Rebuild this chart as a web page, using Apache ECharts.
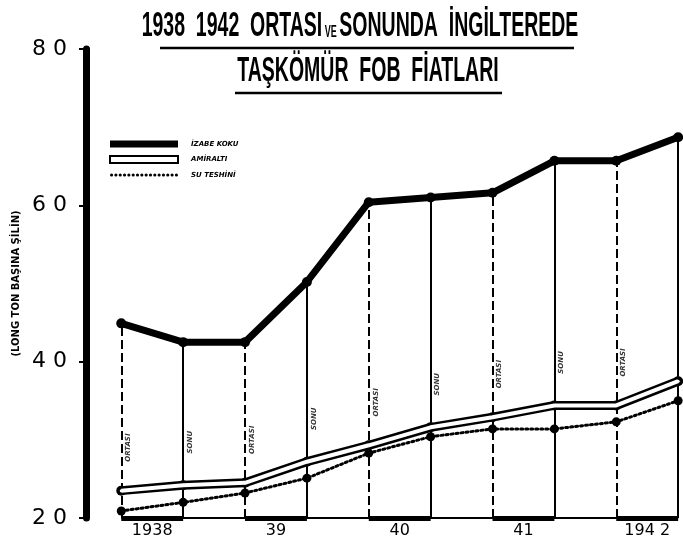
<!DOCTYPE html>
<html>
<head>
<meta charset="utf-8">
<script src="https://cdn.jsdelivr.net/npm/echarts@6/dist/echarts.min.js"></script>
<style>
  html, body { margin: 0; padding: 0; background: #fff; }
  #chart { width: 683px; height: 549px; }
</style>
</head>
<body>
<div id="chart"></div>
<script>
// her yilin ortasi ve sonu (x ekseninde sira no)
const periods = ['1938 ortası', '1938 sonu', '1939 ortası', '1939 sonu', '1940 ortası',
                 '1940 sonu', '1941 ortası', '1941 sonu', '1942 ortası', '1942 sonu'];
// son cizginin yaninda etiket yok
const periodTags = ['ORTASI', 'SONU', 'ORTASI', 'SONU', 'ORTASI', 'SONU', 'ORTASI', 'SONU', 'ORTASI', ''];
const yearLabels = ['1938', '39', '40', '41', '194 2'];

// long ton basina silin
const izabeKoku = [44.9, 42.5, 42.5, 50.2, 60.4, 61.0, 61.6, 65.7, 65.7, 68.7];
const amiralti  = [23.5, 24.2, 24.5, 27.2, 29.3, 31.6, 32.9, 34.4, 34.4, 37.5];
const suTeshini = [20.9, 22.0, 23.2, 25.1, 28.3, 30.4, 31.4, 31.4, 32.3, 35.0];

const yMin = 20, yMax = 80, yStep = 20;

const pts = arr => arr.map((v, i) => [i, v]);

// legend icon: noktali cizgi
let dots = '';
for (let x = 1.6; x < 68; x += 4.4) {
  dots += 'M' + (x - 1.6) + ',2a1.6,1.6 0 1,0 3.2,0a1.6,1.6 0 1,0 -3.2,0';
}

// dikey cizgiler (ortasi kesikli, sonu duz) ve alt cizgi
const frameLines = periods.map((p, i) => [
  { coord: [i, yMin], lineStyle: { type: i % 2 === 0 ? [9, 4] : 'solid', width: 2 } },
  { coord: [i, izabeKoku[i]] }
]);
frameLines.push([{ coord: [0, yMin], lineStyle: { type: 'solid', width: 2 } },
                 { coord: [periods.length - 1, yMin] }]);
yearLabels.forEach((y, k) => {
  frameLines.push([{ coord: [k * 2, yMin], lineStyle: { type: 'solid', width: 5 } },
                   { coord: [k * 2 + 1, yMin] }]);
});

const titleFont = 'bold 26px "Liberation Sans"';

const chart = echarts.init(document.getElementById('chart'));

chart.setOption({
  animation: false,
  backgroundColor: '#fff',
  grid: { left: 86, right: 3, top: 49, bottom: 31 },
  graphic: [
    {
      type: 'text', x: 360, y: 9, scaleX: 0.75, scaleY: 1.32,
      style: {
        text: '{a|1938  1942  ORTASI}{b| VE }{a|SONUNDA  İNGİLTEREDE}',
        align: 'center', fill: '#000',
        rich: {
          a: { font: titleFont, fill: '#000' },
          b: { font: 'bold 12px "Liberation Sans"', fill: '#000', padding: [10, 0, 0, 0] }
        }
      }
    },
    {
      type: 'text', x: 368, y: 54, scaleX: 0.75, scaleY: 1.32,
      style: { text: 'TAŞKÖMÜR  FOB  FİATLARI', align: 'center', fill: '#000', font: titleFont }
    },
    { type: 'line', shape: { x1: 160, y1: 48, x2: 574, y2: 48 }, style: { stroke: '#000', lineWidth: 2.5 } },
    { type: 'line', shape: { x1: 235, y1: 93, x2: 502, y2: 93 }, style: { stroke: '#000', lineWidth: 2.5 } }
  ],
  legend: {
    left: 104, top: 135, orient: 'vertical', itemWidth: 68, itemHeight: 7, itemGap: 7,
    selectedMode: false,
    textStyle: { fontFamily: 'DejaVu Sans', fontSize: 7, fontWeight: 'bold', fontStyle: 'italic',
                 color: '#000', padding: [0, 0, 0, 8], lineHeight: 8 },
    data: [
      { name: 'İZABE KOKU', icon: 'rect', itemStyle: { color: '#000' } },
      { name: 'AMİRALTI', icon: 'rect', itemStyle: { color: '#fff', borderColor: '#000', borderWidth: 2 } },
      { name: 'SU TESHİNİ', icon: 'path://' + dots, itemStyle: { color: '#000' } }
    ]
  },
  xAxis: {
    type: 'value', min: -0.57, max: 9.03,
    axisLine: { show: false }, axisTick: { show: false }, splitLine: { show: false },
    axisLabel: {
      customValues: yearLabels.map((y, k) => k * 2 + 0.5),
      formatter: v => yearLabels[Math.round((v - 0.5) / 2)],
      fontFamily: 'DejaVu Sans', fontSize: 16, color: '#000', margin: 5
    }
  },
  yAxis: {
    type: 'value', min: yMin, max: yMax, interval: yStep,
    name: '(LONG TON BAŞINA ŞİLİN)', nameLocation: 'middle', nameGap: 62, nameRotate: 90,
    nameTextStyle: { fontFamily: 'DejaVu Sans', fontSize: 10, fontWeight: 'bold', color: '#000' },
    axisLine: { show: true, onZero: false, lineStyle: { color: '#000', width: 7 } },
    axisTick: { show: true, length: 7, lineStyle: { color: '#000', width: 2 } },
    splitLine: { show: false },
    axisLabel: {
      formatter: v => String(v).split('').join(' '),
      fontFamily: 'DejaVu Sans', fontSize: 22, color: '#000', margin: 19
    }
  },
  series: [
    {
      name: 'cerceve', type: 'line', data: pts(izabeKoku), showSymbol: false, silent: true,
      lineStyle: { width: 0 }, z: 1,
      markLine: {
        silent: true, symbol: ['none', 'none'], label: { show: false },
        lineStyle: { color: '#000' }, data: frameLines
      }
    },
    {
      name: 'etiket', type: 'scatter', symbolSize: 0, silent: true, z: 2,
      data: amiralti.map((v, i) => [i, v + 5.5]),
      label: {
        show: true, rotate: 90, offset: [0, 7], position: 'inside',
        formatter: p => periodTags[p.dataIndex],
        fontFamily: 'DejaVu Sans', fontSize: 7, fontWeight: 'bold', fontStyle: 'italic', color: '#000'
      }
    },
    {
      name: 'SU TESHİNİ', type: 'line', data: pts(suTeshini), z: 3,
      symbol: 'circle', symbolSize: 9, itemStyle: { color: '#000' },
      lineStyle: { color: '#000', width: 3, type: [2, 3], cap: 'round' }
    },
    {
      name: 'AMİRALTI', type: 'line', data: pts(amiralti), z: 4,
      symbol: 'circle', symbolSize: 10, itemStyle: { color: '#000' },
      lineStyle: { color: '#000', width: 9 }
    },
    {
      name: 'amiralti-ic', type: 'line', data: pts(amiralti), z: 5, silent: true,
      symbol: 'circle', symbolSize: 3, itemStyle: { color: '#fff' },
      lineStyle: { color: '#fff', width: 4 }
    },
    {
      name: 'İZABE KOKU', type: 'line', data: pts(izabeKoku), z: 6,
      symbol: 'circle', symbolSize: 10, itemStyle: { color: '#000' },
      lineStyle: { color: '#000', width: 7 }
    }
  ]
});
</script>
</body>
</html>
